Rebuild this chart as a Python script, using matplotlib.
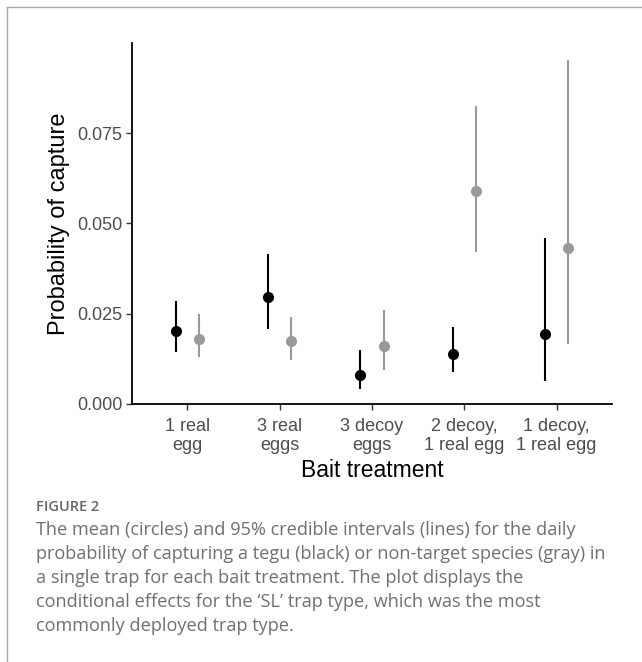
import matplotlib.pyplot as plt
from matplotlib.lines import Line2D

# Data
treatments = ["1 real\negg", "3 real\neggs", "3 decoy\neggs", "2 decoy,\n1 real egg", "1 decoy,\n1 real egg"]
tegu_mean = [0.0202, 0.0296, 0.0081, 0.0139, 0.0193]
tegu_low = [0.0143, 0.0207, 0.0041, 0.0088, 0.0065]
tegu_high = [0.0284, 0.0415, 0.0149, 0.0214, 0.0460]
other_mean = [0.0179, 0.0175, 0.0160, 0.0590, 0.0433]
other_low = [0.0130, 0.0122, 0.0095, 0.0420, 0.0166]
other_high = [0.0248, 0.0242, 0.0259, 0.0826, 0.0953]

caption = ("The mean (circles) and 95% credible intervals (lines) for the daily\n"
           "probability of capturing a tegu (black) or non-target species (gray) in\n"
           "a single trap for each bait treatment. The plot displays the\n"
           "conditional effects for the \u2018SL\u2019 trap type, which was the most\n"
           "commonly deployed trap type.")

W, H = 642, 662
fig = plt.figure(figsize=(W / 100, H / 100), dpi=100)

# light frame around the figure panel (left and top only)
fig.add_artist(Line2D([7 / W, 7 / W], [0, 1 - 7 / H], color="#aaaaaa", lw=1.0))
fig.add_artist(Line2D([7 / W, 1], [1 - 7 / H, 1 - 7 / H], color="#aaaaaa", lw=1.0))

ax = fig.add_axes([132 / W, 1 - 404 / H, 480 / W, (404 - 42.7) / H])

xs = range(1, len(treatments) + 1)
dodge = 0.125
for i, x in enumerate(xs):
    ax.plot([x - dodge, x - dodge], [tegu_low[i], tegu_high[i]], color="black", lw=1.5, solid_capstyle="butt")
    ax.plot([x + dodge, x + dodge], [other_low[i], other_high[i]], color="#999999", lw=1.5, solid_capstyle="butt")
ax.plot([x - dodge for x in xs], tegu_mean, "o", color="black", ms=7)
ax.plot([x + dodge for x in xs], other_mean, "o", color="#999999", ms=7)

ax.set_xlim(0.4, 5.6)
ax.set_ylim(0, 0.1)
ax.set_yticks([0.0, 0.025, 0.05, 0.075])
ax.set_yticklabels(["0.000", "0.025", "0.050", "0.075"])
ax.set_xticks(list(xs))
ax.set_xticklabels(treatments)

for s in ["top", "right"]:
    ax.spines[s].set_visible(False)
for s in ["left", "bottom"]:
    ax.spines[s].set_linewidth(1.3)
    ax.spines[s].set_color("black")

ax.tick_params(axis="both", length=4, width=1.0, color="#333333",
               labelcolor="#4d4d4d", labelsize=13, pad=3)
ax.tick_params(axis="x", pad=6)
for lab in ax.get_xticklabels() + ax.get_yticklabels():
    lab.set_family("Liberation Sans")
for lab in ax.get_xticklabels():
    lab.set_linespacing(1.15)

ax.set_xlabel("Bait treatment", family="Liberation Sans", fontsize=16.5, labelpad=4)
ax.set_ylabel("Probability of capture", family="Liberation Sans", fontsize=17, labelpad=5)

fig.text(36 / W, 1 - 507 / H, "FIGURE 2", family="Open Sans", fontsize=10.5,
         color="#666666", va="center", fontweight="semibold")
fig.text(36 / W, 1 - 521 / H, caption, family="Open Sans", fontsize=13.1,
         color="#6f6f6f", va="top", linespacing=1.43)

fig.savefig("out.png", dpi=100)
